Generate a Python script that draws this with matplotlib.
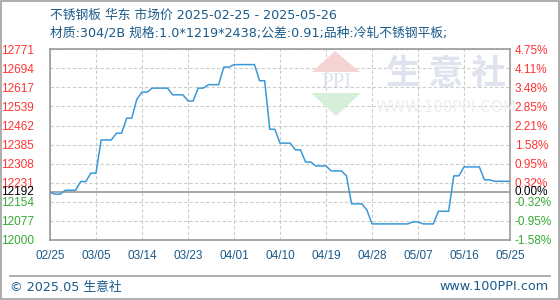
import numpy as np
import pandas as pd
import matplotlib
matplotlib.use("Agg")
import matplotlib.pyplot as plt
from matplotlib.patches import Polygon, Rectangle

plt.rcParams['font.family'] = ['Noto Sans CJK SC', 'DejaVu Sans']
mixed = ['DejaVu Sans', 'Noto Sans CJK SC']

title1 = "不锈钢板 华东 市场价 2025-02-25 - 2025-05-26"
title2 = "材质:304/2B 规格:1.0*1219*2438;公差:0.91;品种:冷轧不锈钢平板;"

dates = pd.date_range("2025-02-25", "2025-05-26", freq="D")
prices = [12192, 12185, 12185, 12201, 12201, 12201, 12236, 12236, 12270, 12270,
          12404, 12404, 12404, 12431, 12431, 12492, 12492, 12569, 12597, 12597,
          12613, 12613, 12613, 12613, 12586, 12586, 12586, 12561, 12561, 12613,
          12613, 12627, 12627, 12627, 12698, 12698, 12708, 12708, 12708, 12708,
          12708, 12643, 12643, 12447, 12447, 12391, 12391, 12391, 12364, 12364,
          12315, 12315, 12299, 12299, 12299, 12279, 12279, 12279, 12259, 12146,
          12146, 12146, 12121, 12065, 12065, 12065, 12065, 12065, 12065, 12065,
          12065, 12073, 12073, 12065, 12065, 12065, 12116, 12116, 12116, 12259,
          12259, 12295, 12295, 12295, 12295, 12243, 12243, 12237, 12237, 12237,
          12237]
base = 12192
y_ticks = [12000, 12077, 12154, 12231, 12308, 12385, 12462, 12539, 12617, 12694, 12771]
pct_labels = ["-1.58%", "-0.95%", "-0.32%", "0.32%", "0.95%", "1.58%", "2.21%",
              "2.85%", "3.48%", "4.11%", "4.75%"]
x_labels = ["02/25", "03/05", "03/14", "03/23", "04/01", "04/10", "04/19",
            "04/28", "05/07", "05/16", "05/25"]

blue_txt = "#1a5a8a"
red = "#ff3333"
green = "#33aa33"
tick_font = "Liberation Sans"

fig = plt.figure(figsize=(5.6, 3.0), dpi=100)
fig.patches.append(Rectangle((0.001, 0.002), 0.997, 0.995, transform=fig.transFigure,
                             fill=False, ec="#a0a0a0", lw=1.2))
ax = fig.add_axes([50 / 560, 60 / 300, 460 / 560, 191 / 300])

x = np.arange(len(dates))
ax.plot(x, prices, color="#3a98d8", lw=1.1, zorder=5)
ax.axhline(base, color="#999999", lw=1.2, zorder=4)

ax.set_xlim(0, len(dates) - 1)
ax.set_ylim(y_ticks[0], y_ticks[-1])
ax.set_yticks(y_ticks)
ax.set_xticks(np.arange(0, len(dates), 9))
ax.set_xticklabels(x_labels, color=blue_txt, fontsize=8.5, family=tick_font)
ax.set_yticklabels([str(v) for v in y_ticks], fontsize=8.5, family=tick_font)
for lbl, v in zip(ax.get_yticklabels(), y_ticks):
    lbl.set_color(red if v > base else green)
ax.tick_params(length=0)
ax.tick_params(axis="y", pad=11.5)
ax.tick_params(axis="x", pad=7)
ax.grid(True, ls=(0, (3, 2)), color="#cccccc", lw=0.8)
for s in ax.spines.values():
    s.set_color("#999999")
    s.set_linewidth(1.2)

ax.text(-16 / 460, base, str(base), transform=ax.get_yaxis_transform(),
        ha="right", va="center", fontsize=8.5, color="black", family=tick_font)

ax2 = ax.twinx()
ax2.set_ylim(ax.get_ylim())
ax2.set_yticks(y_ticks)
ax2.set_yticklabels(pct_labels, fontsize=8.5, family=tick_font)
for lbl, v in zip(ax2.get_yticklabels(), y_ticks):
    lbl.set_color(red if v > base else green)
ax2.tick_params(length=0, pad=3.4)
for s in ax2.spines.values():
    s.set_visible(False)
ax2.text(1 + 4.7 / 460, base, "0.00%", transform=ax2.get_yaxis_transform(),
         ha="left", va="center", fontsize=8.5, color="black", family=tick_font)

# watermark
def px(xp, yp):
    return (xp / 560, 1 - yp / 300)

fig.patches.append(Polygon([px(312, 72), px(360, 72), px(335, 51)], closed=True,
                           transform=fig.transFigure, fc="#f6d3d3", ec="none", zorder=0))
fig.patches.append(Polygon([px(311, 93), px(361, 93), px(336, 116)], closed=True,
                           transform=fig.transFigure, fc="#d5efd9", ec="none", zorder=0))
fig.text(*px(336, 83), "PPI", ha="center", va="center", fontsize=15, color="#dde3ee",
         family="Liberation Serif", zorder=0)
fig.text(*px(446, 73), "生 意 社", ha="center", va="center", fontsize=25, color="#dfe3ee",
         weight="bold", zorder=0)
fig.text(*px(446, 107), "WWW.100PPI.COM", ha="center", va="center", fontsize=11,
         color="#eceef2", family="DejaVu Sans", zorder=0)

fig.text(50 / 560, 1 - 15 / 300, title1, ha="left", va="center", fontsize=9.2,
         color=blue_txt, family=mixed)
fig.text(50 / 560, 1 - 33 / 300, title2, ha="left", va="center", fontsize=9.2,
         color=blue_txt, family=mixed)

fig.add_artist(plt.Line2D([10 / 560, 550 / 560], [1 - 276 / 300] * 2, transform=fig.transFigure,
                          color="#a0a0a0", lw=1.2))
fig.text(10 / 560, 1 - 287 / 300, "© 2025.05 生意社", ha="left", va="center", fontsize=9.2,
         color=blue_txt, family=mixed)
fig.text(549 / 560, 1 - 287 / 300, "www.100PPI.com", ha="right", va="center", fontsize=9.2,
         color=blue_txt, family=mixed)

fig.savefig("out.png", dpi=100)
